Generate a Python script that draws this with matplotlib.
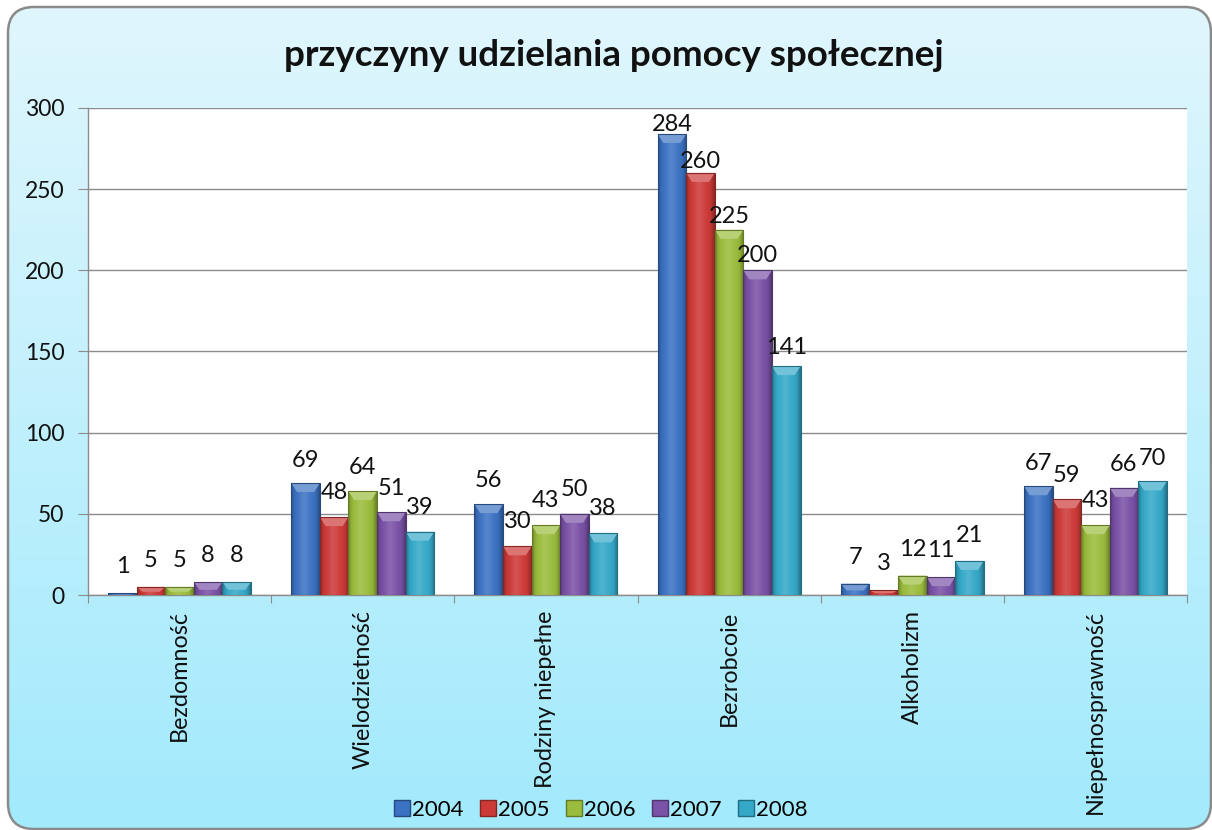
import numpy as np
import matplotlib
matplotlib.use('Agg')
import matplotlib.pyplot as plt
from matplotlib.patches import FancyBboxPatch, Polygon
from matplotlib.colors import to_rgb
from matplotlib.lines import Line2D

plt.rcParams['font.family'] = ['Lato', 'DejaVu Sans']

# ---------------- data ----------------
categories = ['Bezdomność', 'Wielodzietność', 'Rodziny niepełne',
              'Bezrobcoie', 'Alkoholizm', 'Niepełnosprawność']
years = ['2004', '2005', '2006', '2007', '2008']
v2004 = [1, 69, 56, 284, 7, 67]
v2005 = [5, 48, 30, 260, 3, 59]
v2006 = [5, 64, 43, 225, 12, 43]
v2007 = [8, 51, 50, 200, 11, 66]
v2008 = [8, 39, 38, 141, 21, 70]
series = [v2004, v2005, v2006, v2007, v2008]
colors = ['#3c72c2', '#cc3a38', '#9abc3c', '#7a52a6', '#35a8c8']
yticks = [0, 50, 100, 150, 200, 250, 300]
title = 'przyczyny udzielania pomocy społecznej'

W, H = 1212, 830
fig = plt.figure(figsize=(W / 100, H / 100), dpi=100)
fig.patch.set_facecolor('white')

# ---------------- background (rounded chart area) ----------------
bg = fig.add_axes([0, 0, 1, 1], zorder=-10)
bg.set_xlim(0, W)
bg.set_ylim(H, 0)
bg.axis('off')
frame = FancyBboxPatch((8, 7), 1203, 822, boxstyle='round,pad=0,rounding_size=26',
                       facecolor='none', edgecolor='#8a8a8a', lw=1.8, zorder=3)
bg.add_patch(frame)
top_c = np.array(to_rgb('#e0f6fd'))
bot_c = np.array(to_rgb('#a2eafc'))
t = np.linspace(0, 1, 256)[:, None, None]
grad = top_c * (1 - t) + bot_c * t
im = bg.imshow(grad, extent=(8, 1211, 829, 7), origin='upper', aspect='auto', zorder=1)
im.set_clip_path(frame)

# ---------------- main axes ----------------
ax_l, ax_r, ax_t, ax_b = 88, 1187, 108, 595
ax = fig.add_axes([ax_l / W, 1 - ax_b / H, (ax_r - ax_l) / W, (ax_b - ax_t) / H], zorder=1)
ax.set_facecolor('white')
ax.set_xlim(-0.5, len(categories) - 0.5)
ax.set_ylim(0, 300)

n = len(series)
bw = 0.156
x = np.arange(len(categories))
px_per_unit = (ax_b - ax_t) / 300.0


def shade(c, f):
    c = np.array(to_rgb(c))
    return c + (1 - c) * f if f >= 0 else c * (1 + f)


prof_t = [0, 0.12, 0.45, 0.85, 1]
prof_f = [-0.28, -0.05, 0.14, -0.05, -0.32]
tt = np.linspace(0, 1, 64)
ff = np.interp(tt, prof_t, prof_f)

for i, (vals, col) in enumerate(zip(series, colors)):
    xs = x + (i - (n - 1) / 2) * bw
    bars = ax.bar(xs, vals, width=bw, facecolor='none',
                  edgecolor=shade(col, -0.35), lw=0.8, zorder=4, label=years[i])
    img = np.array([[shade(col, f) for f in ff]])
    for b, xc, v in zip(bars, xs, vals):
        x0, x1 = xc - bw / 2, xc + bw / 2
        gi = ax.imshow(img, extent=(x0, x1, 0, v), aspect='auto', zorder=3,
                       interpolation='bilinear')
        gi.set_clip_path(b)
        ch = min(9 / px_per_unit, v * 0.6)
        cap = Polygon([(x0, v), (x1, v), (x1 - bw * 0.2, v - ch), (x0 + bw * 0.2, v - ch)],
                      closed=True, facecolor=shade(col, 0.3), edgecolor='none', zorder=3.5)
        ax.add_patch(cap)
        off_px = 27 - 0.06 * v
        ax.annotate(str(v), (xc, v), xytext=(0, off_px * 0.72), textcoords='offset points',
                    ha='center', va='center', fontsize=17, color='#111111', zorder=6)

ax.set_xlim(-0.5, len(categories) - 0.5)
ax.set_ylim(0, 300)

# grid, spines, ticks
ax.set_axisbelow(True)
ax.yaxis.grid(True, color='#8c8c8c', lw=1.0, zorder=0)
for s in ['top', 'right']:
    ax.spines[s].set_visible(False)
for s in ['left', 'bottom']:
    ax.spines[s].set_color('#8c8c8c')
    ax.spines[s].set_linewidth(1.0)
ax.set_yticks(yticks)
ax.tick_params(axis='y', length=7, color='#8c8c8c', labelsize=16.5, pad=10, labelcolor='#111111')

ax.set_xticks(np.arange(len(categories) + 1) - 0.5)
ax.set_xticklabels([])
ax.tick_params(axis='x', which='major', length=6, color='#8c8c8c')
ax.set_xticks(x, minor=True)
ax.set_xticklabels(categories, minor=True, rotation=90, fontsize=16.8, color='#111111')
ax.tick_params(axis='x', which='minor', length=0, pad=11)

# title
fig.text(614 / W, 1 - 56 / H, title, ha='center', va='center', fontsize=26.5,
         fontweight='bold', color='#111111')

# legend
handles = [Line2D([], [], marker='s', ls='none', markersize=11, markerfacecolor=c,
                  markeredgecolor=shade(c, -0.35)) for c in colors]
fig.legend(handles, years, loc='center', bbox_to_anchor=(601 / W, 1 - 810 / H),
           ncol=5, frameon=False, fontsize=16, handlelength=0.7, handletextpad=0.1,
           columnspacing=0.75, borderpad=0)

fig.savefig('out.png', dpi=100)
